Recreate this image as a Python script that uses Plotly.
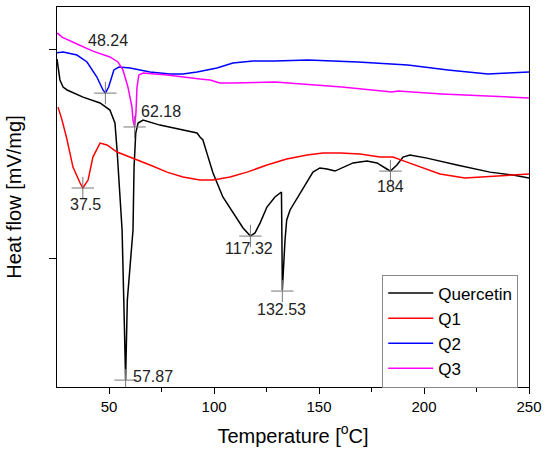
import plotly.graph_objects as go

# DSC curves (temperature in degC, heat flow in arbitrary mV/mg units)
quercetin_t = [25.2, 26.0, 26.6, 28.1, 30.0, 37.6, 45.7, 50.4, 52.8, 53.8, 55.2, 56.2, 57.0, 57.87,
               58.7, 61.4, 61.9, 62.7, 63.8, 66.2, 74.2, 85.2, 90.0, 91.9, 93.3, 94.7, 96.6, 99.5,
               104.2, 109.0, 113.8, 117.32, 119.5, 121.9, 125.2, 129.0, 131.4, 132.1, 132.3, 132.53,
               133.8, 134.6, 136.2, 139.9, 144.3, 147.1, 150.4, 153.8, 157.6, 161.4, 166.2, 172.8,
               177.6, 182.3, 184.0, 187.1, 190.0, 193.3, 201.4, 215.7, 231.4, 242.3, 250.0]
quercetin_v = [-0.048, -0.100, -0.148, -0.182, -0.196, -0.230, -0.258, -0.292, -0.354, -0.483, -0.722,
               -0.866, -1.200, -1.584, -1.200, -0.866, -0.565, -0.402, -0.354, -0.340, -0.364, -0.388,
               -0.397, -0.402, -0.421, -0.435, -0.498, -0.593, -0.708, -0.785, -0.856, -0.895, -0.880,
               -0.833, -0.756, -0.708, -0.689, -0.684, -0.880, -1.153, -0.914, -0.818, -0.770, -0.708,
               -0.641, -0.589, -0.569, -0.574, -0.584, -0.565, -0.545, -0.536, -0.545, -0.574, -0.584,
               -0.555, -0.517, -0.507, -0.522, -0.555, -0.589, -0.603, -0.617]

q1_t = [25.7, 27.6, 30.0, 32.8, 36.2, 37.5, 40.0, 42.3, 45.7, 49.0, 53.8, 61.4, 69.5, 77.6, 85.2,
        93.3, 99.5, 107.6, 115.7, 125.2, 134.6, 144.3, 151.9, 160.0, 169.5, 179.0, 185.2, 191.9,
        199.5, 207.6, 219.5, 226.6, 239.5, 250.0]
q1_v = [-0.278, -0.340, -0.435, -0.565, -0.641, -0.665, -0.627, -0.517, -0.450, -0.459, -0.493,
        -0.522, -0.555, -0.589, -0.612, -0.627, -0.627, -0.612, -0.589, -0.555, -0.526, -0.507,
        -0.498, -0.498, -0.502, -0.517, -0.517, -0.541, -0.569, -0.598, -0.617, -0.612, -0.603, -0.598]

q2_t = [25.2, 28.1, 34.7, 39.5, 44.2, 47.1, 48.24, 49.8, 52.3, 54.7, 60.0, 69.5, 79.0, 85.2, 91.9,
        101.4, 109.0, 118.5, 129.0, 144.7, 168.5, 192.3, 211.4, 224.3, 230.4, 240.0, 250.0]
q2_v = [-0.018, -0.014, -0.029, -0.062, -0.134, -0.196, -0.211, -0.182, -0.100, -0.086, -0.091,
        -0.110, -0.120, -0.120, -0.110, -0.091, -0.067, -0.057, -0.057, -0.053, -0.062, -0.077,
        -0.100, -0.115, -0.120, -0.115, -0.110]

q3_t = [25.2, 27.6, 34.7, 42.3, 50.4, 54.2, 56.6, 59.0, 60.9, 61.4, 62.18, 62.8, 63.3, 64.2, 66.2,
        77.6, 93.3, 98.1, 102.8, 109.0, 129.0, 160.9, 184.7, 187.6, 208.5, 240.0, 250.0]
q3_v = [0.077, 0.057, 0.024, -0.010, -0.038, -0.062, -0.100, -0.182, -0.278, -0.340, -0.373, -0.306,
        -0.182, -0.124, -0.115, -0.124, -0.144, -0.148, -0.163, -0.163, -0.158, -0.182, -0.206,
        -0.201, -0.215, -0.230, -0.234]

# peak markers and their labels
peak_t = [48.24, 62.18, 37.5, 57.87, 117.32, 132.53, 184.0]
peak_v = [-0.211, -0.373, -0.665, -1.584, -0.895, -1.158, -0.584]
peak_labels = ["48.24", "62.18", "37.5", "57.87", "117.32", "132.53", "184"]
label_t = [49.5, 74.7, 39.0, 70.7, 116.6, 131.9, 184.2]
label_v = [0.043, -0.301, -0.746, -1.565, -0.952, -1.244, -0.660]

FONT = "Liberation Sans, Arial, sans-serif"

fig = go.Figure()
fig.add_trace(go.Scatter(x=quercetin_t, y=quercetin_v, mode="lines", name="Quercetin",
                         line=dict(color="black", width=1.5)))
fig.add_trace(go.Scatter(x=q1_t, y=q1_v, mode="lines", name="Q1",
                         line=dict(color="#ff0000", width=1.5)))
fig.add_trace(go.Scatter(x=q2_t, y=q2_v, mode="lines", name="Q2",
                         line=dict(color="#0000ff", width=1.5)))
fig.add_trace(go.Scatter(x=q3_t, y=q3_v, mode="lines", name="Q3",
                         line=dict(color="#ff00ff", width=1.5)))
fig.add_trace(go.Scatter(x=peak_t, y=peak_v, mode="markers", showlegend=False,
                         marker=dict(symbol="cross-thin-open", size=16, color="#777777",
                                     line=dict(color="#777777", width=1))))

for t, v, s in zip(label_t, label_v, peak_labels):
    fig.add_annotation(x=t, y=v, text=s, showarrow=False,
                       font=dict(family=FONT, size=16, color="#222222"))

fig.update_layout(
    width=550, height=461,
    margin=dict(l=57, r=21, t=7, b=74),
    plot_bgcolor="white", paper_bgcolor="white",
    font=dict(family=FONT, color="black"),
    legend=dict(x=0.689, y=0.296, xanchor="left", yanchor="top",
                bordercolor="#888888", borderwidth=1, bgcolor="white",
                itemwidth=45, font=dict(size=17, family=FONT)),
)
fig.update_xaxes(range=[25.2, 250], tickvals=[50, 100, 150, 200, 250],
                 ticks="outside", ticklen=6, tickcolor="black",
                 minor=dict(tickvals=[75, 125, 175, 225], ticks="outside", ticklen=4, tickcolor="black"),
                 showline=True, linecolor="black", linewidth=1, mirror=True,
                 showgrid=False, zeroline=False, tickfont=dict(size=15),
                 title=dict(text="Temperature [<sup>o</sup>C]", font=dict(size=20), standoff=14))
fig.update_yaxes(range=[-1.617, 0.201], tickvals=[0, -1], showticklabels=False,
                 ticks="outside", ticklen=7, tickcolor="black",
                 showline=True, linecolor="black", linewidth=1, mirror=True,
                 showgrid=False, zeroline=False,
                 title=dict(text="Heat flow [mV/mg]", font=dict(size=20), standoff=22))

# page body has a default 8px margin; drop it so the figure sits at the window corner
fig.write_html("out.html", config={"displayModeBar": False},
               post_script="document.body.style.margin='0px';")
